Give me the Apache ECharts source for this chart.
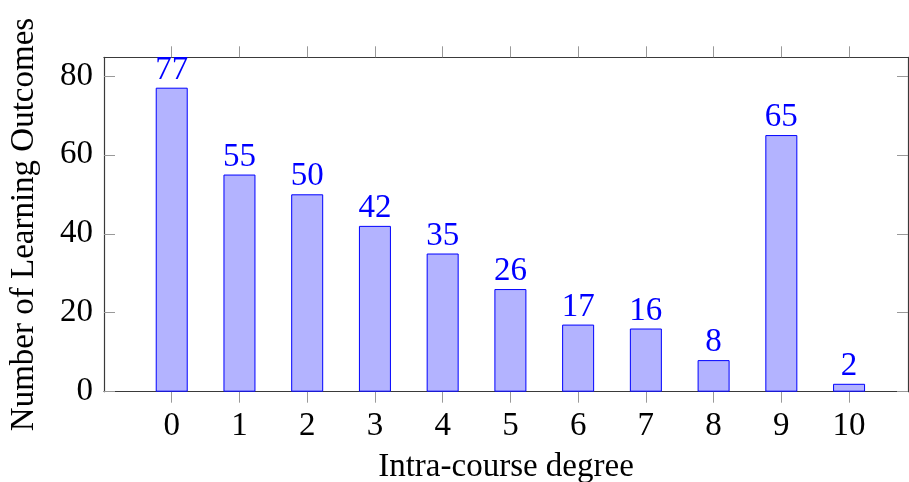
<!DOCTYPE html>
<html>
<head>
<meta charset="utf-8">
<script src="https://cdn.jsdelivr.net/npm/echarts@6/dist/echarts.min.js"></script>
<style>
  html, body { margin: 0; padding: 0; background: #fff; }
  #chart { width: 909px; height: 482px; }
</style>
</head>
<body>
<div id="chart"></div>
<script>
// Intra-course degree of each learning outcome and how many outcomes have it
const degrees = [0, 1, 2, 3, 4, 5, 6, 7, 8, 9, 10];
const outcomeCounts = [77, 55, 50, 42, 35, 26, 17, 16, 8, 65, 2];
const yTicks = [0, 20, 40, 60, 80];

const serif = '"Liberation Serif", "DejaVu Serif", serif';
const fontSize = 33;
const frameColor = '#3a3a3a';
const tickColor = '#999999';

const chart = echarts.init(document.getElementById('chart'), null, { renderer: 'canvas' });

const xBase = {
  type: 'value',
  min: -1,
  max: 10.87,
  interval: 1,
  axisLine: { show: true, onZero: false, lineStyle: { color: frameColor, width: 1.2 } },
  axisTick: { show: true, inside: false, length: 11, customValues: degrees, lineStyle: { color: tickColor, width: 1 } },
  splitLine: { show: false }
};
const yBase = {
  type: 'value',
  min: 0,
  max: 84.7,
  interval: 20,
  axisLine: { show: true, onZero: false, lineStyle: { color: frameColor, width: 1.2 } },
  axisTick: { show: true, inside: true, length: 11, customValues: yTicks, lineStyle: { color: tickColor, width: 1 } },
  splitLine: { show: false }
};

chart.setOption({
  animation: false,
  backgroundColor: '#ffffff',
  grid: { left: 104, top: 57.3, right: 1, bottom: 90.3, containLabel: false, outerBoundsMode: 'none' },
  xAxis: [
    Object.assign({}, xBase, {
      position: 'bottom',
      name: 'Intra-course degree',
      nameLocation: 'middle',
      nameGap: 59,
      nameTextStyle: { fontFamily: serif, fontSize: fontSize, color: '#000' },
      axisLabel: { show: true, customValues: degrees, margin: 18, fontFamily: serif, fontSize: fontSize, color: '#000' }
    }),
    Object.assign({}, xBase, {
      position: 'top',
      axisLabel: { show: false }
    })
  ],
  yAxis: [
    Object.assign({}, yBase, {
      position: 'left',
      name: 'Number of Learning Outcomes',
      nameLocation: 'middle',
      nameGap: 63,
      nameRotate: 90,
      nameTextStyle: { fontFamily: serif, fontSize: fontSize, color: '#000' },
      axisLabel: { show: true, customValues: yTicks, margin: 11, fontFamily: serif, fontSize: fontSize, color: '#000' }
    }),
    Object.assign({}, yBase, {
      position: 'right',
      axisLabel: { show: false }
    })
  ],
  series: [{
    type: 'bar',
    xAxisIndex: 0,
    yAxisIndex: 0,
    data: degrees.map((d, i) => [d, outcomeCounts[i]]),
    barWidth: 32,
    itemStyle: { color: '#b3b3ff', borderColor: '#0000ff', borderWidth: 1 },
    label: {
      show: true,
      position: 'top',
      distance: 1,
      formatter: p => String(p.value[1]),
      fontFamily: serif,
      fontSize: fontSize,
      color: '#0000ff'
    }
  }]
});
</script>
</body>
</html>
